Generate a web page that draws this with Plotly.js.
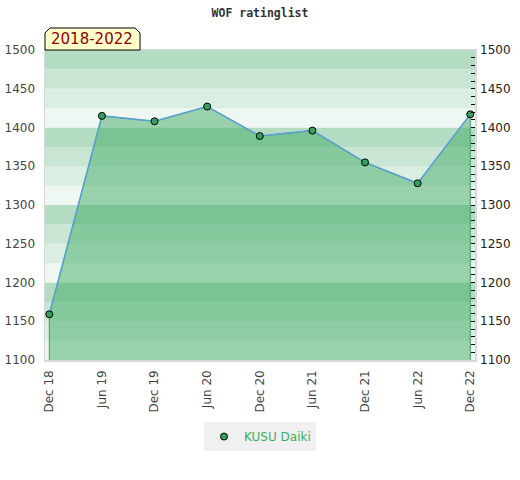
<!DOCTYPE html>
<html><head><meta charset="utf-8">
<script src="https://cdn.plot.ly/plotly-3.0.1.min.js"></script>
<style>body{margin:0;background:#fff}#chart{width:520px;height:480px}</style>
</head><body><div id="chart"></div>
<script>
const periods = ["Dec 18","Jun 19","Dec 19","Jun 20","Dec 20","Jun 21","Dec 21","Jun 22","Dec 22"];
const ratings = [1159,1415,1408,1427,1389,1396,1355,1328,1417];
const playerName = "KUSU Daiki";
const chartTitle = "WOF ratinglist";
const periodLabel = "2018-2022";
const yTicks = [1100,1150,1200,1250,1300,1350,1400,1450,1500];
const yMin = 1100, yMax = 1500, bandStep = 25;
const bandColors = ["#eef7f1","#dbeee2","#c8e6d3","#b3dcc3"];

const shapes = [];
for (let v = yMin, i = 0; v < yMax; v += bandStep, i++) {
  shapes.push({type:'rect', xref:'paper', yref:'y', x0:0, x1:1, y0:v, y1:v+bandStep,
    fillcolor: bandColors[i % 4], line:{width:0}, layer:'below'});
}
// label tab with cut corners
shapes.push({type:'path', xref:'paper', yref:'paper', layer:'above',
  path:'M 0 1 L 0 1.055 L 0.0116 1.071 L 0.209 1.071 L 0.221 1.055 L 0.221 1 Z',
  fillcolor:'#ffffcc', line:{color:'#000', width:1}});

const markerStyle = {size:7, color:'#34a060', line:{color:'#000', width:1}};

const traces = [
  {x:[periods[0], ...periods, periods[periods.length-1]], y:[yMin, ...ratings, yMin],
   type:'scatter', mode:'lines', fill:'toself', fillcolor:'rgba(66,171,101,0.5)',
   line:{color:'#3a9e5c', width:1}, showlegend:false, hoverinfo:'skip', yaxis:'y'},
  {x:periods, y:ratings, type:'scatter', mode:'lines+markers',
   line:{color:'#5a9fd6', width:1.5}, marker:markerStyle, showlegend:false, yaxis:'y2'},
  {x:[null], y:[null], type:'scatter', mode:'markers', name:playerName,
   marker:markerStyle, showlegend:true, yaxis:'y2'}
];

const tickFont = {family:'DejaVu Sans, sans-serif', size:12, color:'#444'};
const layout = {
  width:520, height:480,
  margin:{l:45, r:45, t:50, b:120},
  paper_bgcolor:'#fff', plot_bgcolor:'#fff',
  title:{text:chartTitle, font:{family:'DejaVu Sans Mono, monospace', size:11.5, color:'#333', weight:'bold'},
         x:0.5, xanchor:'center', y:1-13/480, yanchor:'middle', yref:'container'},
  xaxis:{type:'category', range:[-0.082, 8.09], tickangle:-90, tickfont:tickFont,
         showgrid:false, zeroline:false, ticks:'', showline:true, linecolor:'#d8d8d8', linewidth:1.5,
         mirror:true, ticklabelstandoff:4, fixedrange:true},
  yaxis:{range:[yMin, yMax], tickvals:yTicks, tickfont:tickFont, showgrid:false, zeroline:false,
         ticks:'', showline:true, linecolor:'#d8d8d8', linewidth:1.5, mirror:true, ticklabelstandoff:6},
  yaxis2:{range:[yMin, yMax], overlaying:'y', side:'right', tickvals:yTicks,
          tickfont:{family:'DejaVu Sans, sans-serif', size:12, color:'#222'},
          showgrid:false, zeroline:false, ticks:'inside', ticklen:4, tickcolor:'#000', tickwidth:1,
          minor:{dtick:10, tick0:1100, ticks:'inside', ticklen:4, tickcolor:'#000', tickwidth:1, showgrid:false},
          showline:false, ticklabelstandoff:4},
  shapes: shapes,
  annotations:[{text:periodLabel, xref:'paper', yref:'paper', x:0.11, y:1.035, xanchor:'center', yanchor:'middle',
    showarrow:false, font:{family:'DejaVu Sans, sans-serif', size:15, color:'#8b0000'}}],
  showlegend:true,
  legend:{orientation:'h', x:0.5, xanchor:'center', y:-0.247, yanchor:'middle', bgcolor:'#f0f0f0',
          font:{family:'DejaVu Sans, sans-serif', size:12, color:'#3aae60'}}
};
Plotly.newPlot('chart', traces, layout, {displayModeBar:false, staticPlot:true});
</script></body></html>
